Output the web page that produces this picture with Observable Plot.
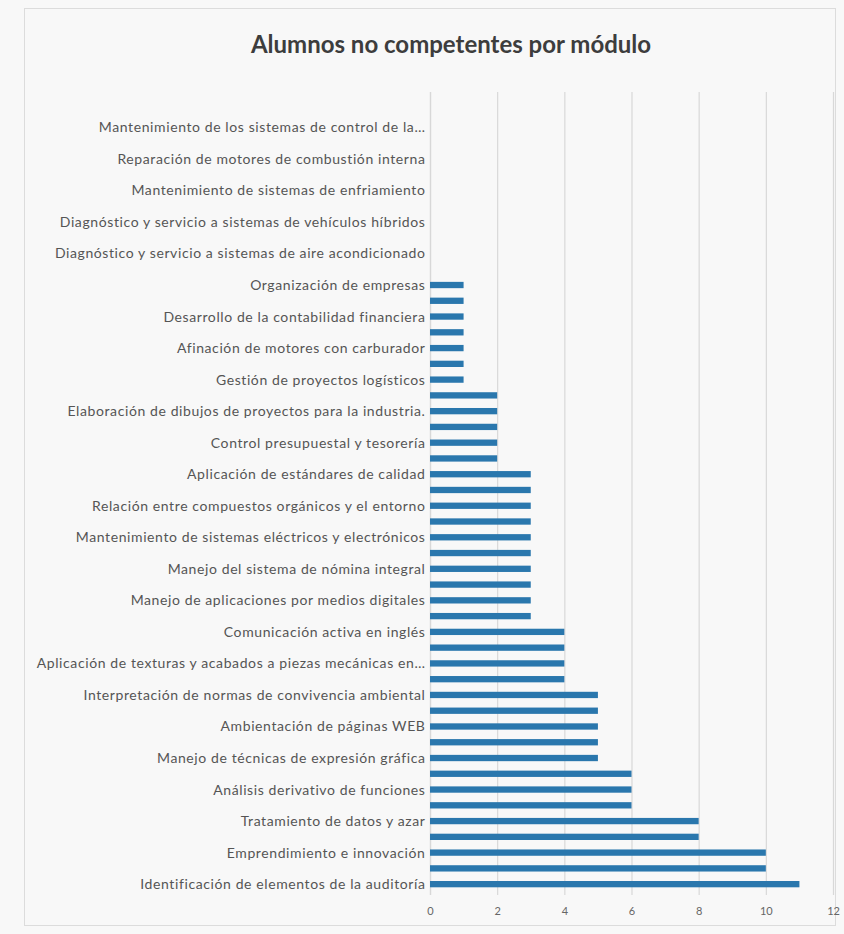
<!DOCTYPE html>
<html>
<head>
<meta charset="utf-8">
<script src="https://cdn.jsdelivr.net/npm/d3@7"></script>
<script src="https://cdn.jsdelivr.net/npm/@observablehq/plot@0.6"></script>
<style>
  html, body { margin: 0; padding: 0; background: #f8f8f8; }
  #wrap { position: relative; width: 844px; height: 934px; overflow: hidden; background: #f8f8f8; }
  #frame { position: absolute; left: 24px; top: 8px; width: 812px; height: 918px; border: 1px solid #dcdcdc; box-sizing: border-box; }
  #title { position: absolute; left: 29px; top: 0; width: 844px; height: 72px; text-align: center;
           font-family: Lato, "Open Sans", sans-serif; font-weight: 700; font-size: 24px; color: #3d3d3d;
           line-height: 88px; }
  #chart { position: absolute; left: 0; top: 72px; }
  #chart svg g[aria-label="y-axis tick label"] text { letter-spacing: 0.6px; }
</style>
</head>
<body>
<div id="wrap">
  <div id="frame"></div>
  <div id="title">Alumnos no competentes por módulo</div>
  <div id="chart"></div>
</div>
<script>
// Visible category labels (every other category, from the bottom up)
const labels = [
  "Identificación de elementos de la auditoría",
  "Emprendimiento e innovación",
  "Tratamiento de datos y azar",
  "Análisis derivativo de funciones",
  "Manejo de técnicas de expresión gráfica",
  "Ambientación de páginas WEB",
  "Interpretación de normas de convivencia ambiental",
  "Aplicación de texturas y acabados a piezas mecánicas en…",
  "Comunicación activa en inglés",
  "Manejo de aplicaciones por medios digitales",
  "Manejo del sistema de nómina integral",
  "Mantenimiento de sistemas eléctricos y electrónicos",
  "Relación entre compuestos orgánicos y el entorno",
  "Aplicación de estándares de calidad",
  "Control presupuestal y tesorería",
  "Elaboración de dibujos de proyectos para la industria.",
  "Gestión de proyectos logísticos",
  "Afinación de motores con carburador",
  "Desarrollo de la contabilidad financiera",
  "Organización de empresas",
  "Diagnóstico y servicio a sistemas de aire acondicionado",
  "Diagnóstico y servicio a sistemas de vehículos híbridos",
  "Mantenimiento de sistemas de enfriamiento",
  "Reparación de motores de combustión interna",
  "Mantenimiento de los sistemas de control de la…"
];

// Number of non-competent students per module (49 modules, bottom to top)
const values = [
  11, 10, 10, 8, 8, 6, 6, 6,
  5, 5, 5, 5, 5,
  4, 4, 4, 4,
  3, 3, 3, 3, 3, 3, 3, 3, 3, 3,
  2, 2, 2, 2, 2,
  1, 1, 1, 1, 1, 1, 1,
  0, 0, 0, 0, 0, 0, 0, 0, 0, 0
];

const xTicks = [0, 2, 4, 6, 8, 10, 12];

const data = values.map((v, i) => ({index: i, value: v}));
const yDomain = d3.range(values.length - 1, -1, -1);
const labeledTicks = yDomain.filter(i => i % 2 === 0);

const chart = Plot.plot({
  width: 844,
  height: 862,
  marginLeft: 430,
  marginRight: 11,
  marginTop: 20,
  marginBottom: 39,
  style: {background: "transparent", fontFamily: "Lato, 'Open Sans', sans-serif"},
  x: {domain: [0, 12]},
  y: {type: "band", domain: yDomain, paddingInner: 0.6, paddingOuter: 1.265, align: 0.807},
  marks: [
    Plot.gridX(xTicks, {stroke: "#d8d8d8", strokeOpacity: 1, strokeWidth: 1.2}),
    Plot.ruleX([0], {stroke: "#d8d8d8", strokeWidth: 1.2}),
    Plot.barX(data, {x: "value", y: "index", fill: "#2a77ad"}),
    Plot.axisX(xTicks, {tickSize: 0, tickPadding: 12, fontSize: 11, fill: "#666", label: null}),
    Plot.axisY(labeledTicks, {
      tickSize: 0, tickPadding: 5, fontSize: 14, fill: "#555", label: null,
      tickFormat: i => labels[i / 2]
    })
  ]
});
document.getElementById("chart").appendChild(chart);
</script>
</body>
</html>
